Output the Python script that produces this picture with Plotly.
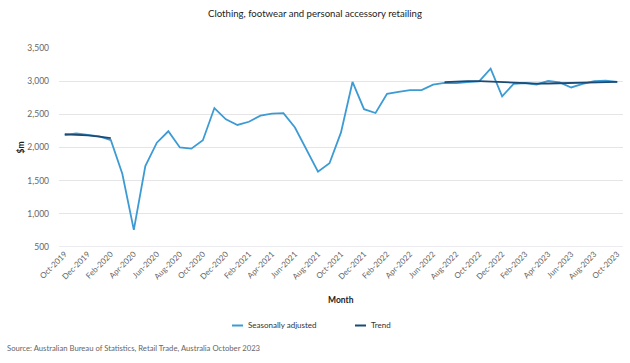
import plotly.graph_objects as go

months = ["Oct-2019","Nov-2019","Dec-2019","Jan-2020","Feb-2020","Mar-2020","Apr-2020","May-2020",
          "Jun-2020","Jul-2020","Aug-2020","Sep-2020","Oct-2020","Nov-2020","Dec-2020","Jan-2021",
          "Feb-2021","Mar-2021","Apr-2021","May-2021","Jun-2021","Jul-2021","Aug-2021","Sep-2021",
          "Oct-2021","Nov-2021","Dec-2021","Jan-2022","Feb-2022","Mar-2022","Apr-2022","May-2022",
          "Jun-2022","Jul-2022","Aug-2022","Sep-2022","Oct-2022","Nov-2022","Dec-2022","Jan-2023",
          "Feb-2023","Mar-2023","Apr-2023","May-2023","Jun-2023","Jul-2023","Aug-2023","Sep-2023",
          "Oct-2023"]

seasonally_adjusted = [2185, 2212, 2190, 2168, 2112, 1605, 758, 1720,
                       2072, 2245, 2000, 1982, 2110, 2595, 2425, 2340,
                       2388, 2480, 2510, 2518, 2302, 1962, 1635, 1762,
                       2228, 2988, 2578, 2520, 2808, 2840, 2865, 2865,
                       2948, 2975, 2970, 2985, 2998, 3188, 2772, 2960,
                       2972, 2950, 3005, 2980, 2905, 2960, 3002, 3008,
                       2988]

trend = [2200, 2197, 2183, 2165, 2142, None, None, None,
         None, None, None, None, None, None, None, None,
         None, None, None, None, None, None, None, None,
         None, None, None, None, None, None, None, None,
         None, 2985, 2995, 3002, 3002, 2995, 2982, 2972,
         2965, 2962, 2965, 2968, 2970, 2975, 2983, 2988,
         2990]

series_names = ["Seasonally adjusted", "Trend"]
tick_labels = months[::2]

SA_COLOR = "#3d9bd4"
TREND_COLOR = "#1b4a75"
FONT = "Lato"

# plot-area geometry in pixels (for converting legend/label positions to paper coords)
L, R, T, B = 59, 623, 48, 247
W, H = R - L, B - T


def px(x):
    return (x - L) / W


def py(y):
    return (B - y) / H


fig = go.Figure()
fig.add_trace(go.Scatter(x=months, y=seasonally_adjusted, mode="lines", name=series_names[0],
                         line=dict(color=SA_COLOR, width=1.8), showlegend=False))
fig.add_trace(go.Scatter(x=months, y=trend, mode="lines", name=series_names[1],
                         line=dict(color=TREND_COLOR, width=1.8), connectgaps=False, showlegend=False))

fig.update_layout(
    width=630, height=363,
    margin=dict(l=L, r=630 - R, t=T, b=363 - B, autoexpand=False),
    paper_bgcolor="white", plot_bgcolor="white",
    font=dict(family=FONT, color="#333333", size=10),
    title=dict(text="Clothing, footwear and personal accessory retailing", x=0.5, xanchor="center",
               y=1 - 14 / 363, yanchor="middle", font=dict(size=9.6, color="#222222")),
    showlegend=False,
    hovermode=False,
)

fig.update_xaxes(type="category", categoryorder="array", categoryarray=months,
                 tickmode="array", tickvals=tick_labels, ticktext=tick_labels,
                 tickangle=-45, tickfont=dict(size=8, color="#666666"),
                 showgrid=False, showline=False, ticks="", range=[-0.5, 48.5], autorange=False,
                 automargin=False)
fig.update_yaxes(range=[500, 3500], tickvals=[500, 1000, 1500, 2000, 2500, 3000, 3500],
                 tickformat=",d", tickfont=dict(size=8.5, color="#666666"),
                 showgrid=True, gridcolor="#e5e5e5", gridwidth=1, zeroline=False,
                 showline=False, ticks="", ticklabelstandoff=9, automargin=False)

fig.add_shape(type="line", xref="paper", yref="y", x0=0, x1=1, y0=500, y1=500,
              line=dict(color="#d8d8e0", width=1))

# custom legend
legend_items = [(232, 243, 246, SA_COLOR, series_names[0]),
                (355, 366, 369, TREND_COLOR, series_names[1])]
for x0, x1, xt, col, name in legend_items:
    fig.add_shape(type="line", xref="paper", yref="paper", x0=px(x0), x1=px(x1),
                  y0=py(325.5), y1=py(325.5), line=dict(color=col, width=2))
    fig.add_annotation(text=name, xref="paper", yref="paper", x=px(xt), y=py(325),
                       showarrow=False, font=dict(size=8, color="#333333"),
                       xanchor="left", yanchor="middle")

fig.add_annotation(text="Month", xref="paper", yref="paper", x=0.5, y=py(300),
                   showarrow=False, font=dict(size=8.5, color="#222222", weight="bold"),
                   xanchor="center", yanchor="middle")
fig.add_annotation(text="$m", xref="paper", yref="paper", x=px(20), y=0.5,
                   showarrow=False, textangle=-90, font=dict(size=8.5, color="#222222", weight="bold"),
                   xanchor="center", yanchor="middle")
fig.add_annotation(text="Source: Australian Bureau of Statistics, Retail Trade, Australia October 2023",
                   xref="paper", yref="paper", x=px(5), y=py(348),
                   showarrow=False, font=dict(size=7.7, color="#666666"),
                   xanchor="left", yanchor="middle")

fig.write_html("out.html", config={"displayModeBar": False, "staticPlot": True},
               post_script="document.body.style.margin='0';document.body.style.overflow='hidden';")
